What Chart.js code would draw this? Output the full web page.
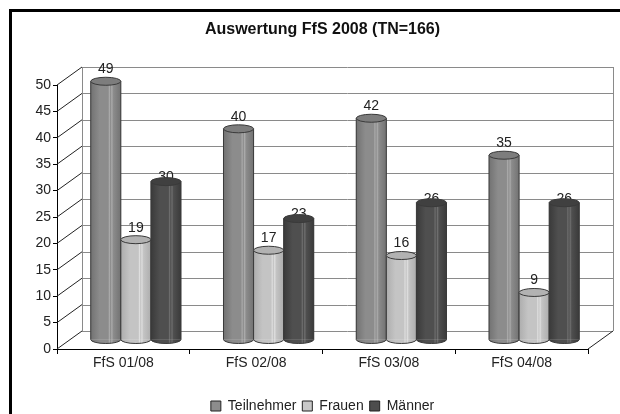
<!DOCTYPE html>
<html>
<head>
<meta charset="utf-8">
<script src="https://cdn.jsdelivr.net/npm/chart.js@4/dist/chart.umd.min.js"></script>
<style>
  html, body { margin: 0; padding: 0; background: #fff; overflow: hidden; }
  canvas { display: block; }
</style>
</head>
<body>
<canvas id="c" width="620" height="414"></canvas>
<script>
const categories = ["FfS 01/08", "FfS 02/08", "FfS 03/08", "FfS 04/08"];
const teilnehmer = [49, 40, 42, 35];
const frauen = [19, 17, 16, 9];
const maenner = [30, 23, 26, 26];
const yMax = 50;
const yStep = 5;

// depth of the 3d box
const DX = 25, DY = -18;
const RY = 4;
const FONT = '"Liberation Sans", Arial, sans-serif';

// shading per series: dark edge, base, light stripe, top cap
const shades = [
  { dark: "#727272", base: "#8c8c8c", light: "#ababab", top: "#7d7d7d", labelOff: 12 },
  { dark: "#adadad", base: "#c4c4c4", light: "#dedede", top: "#b2b2b2", labelOff: 12 },
  { dark: "#3a3a3a", base: "#4f4f4f", light: "#6e6e6e", top: "#404040", labelOff: 4 }
];

function cylGrad(ctx, x0, w, s) {
  const g = ctx.createLinearGradient(x0, 0, x0 + w, 0);
  g.addColorStop(0, s.dark);
  g.addColorStop(0.3, s.base);
  g.addColorStop(0.58, s.base);
  g.addColorStop(0.62, s.light);
  g.addColorStop(0.66, s.base);
  g.addColorStop(0.70, s.light);
  g.addColorStop(0.75, s.base);
  g.addColorStop(1, s.dark);
  return g;
}

function line(ctx, x1, y1, x2, y2) {
  ctx.beginPath();
  ctx.moveTo(x1, y1);
  ctx.lineTo(x2, y2);
  ctx.stroke();
}

// white page with the black frame (only top and left are in view)
const frame = {
  id: "frame",
  beforeDraw(chart) {
    const { ctx, width, height } = chart;
    ctx.save();
    ctx.fillStyle = "#fff";
    ctx.fillRect(0, 0, width, height);
    ctx.fillStyle = "#000";
    ctx.fillRect(9, 9, width - 9, 3);
    ctx.fillRect(9, 9, 3, height - 9);
    ctx.restore();
  }
};

const box3d = {
  id: "box3d",
  beforeDatasetsDraw(chart) {
    const { ctx, scales: { x, y } } = chart;
    const l = x.left, r = x.right, b = y.bottom, t = y.top;
    ctx.save();
    ctx.lineWidth = 1;
    // back wall
    ctx.strokeStyle = "#8a8a8a";
    for (let v = 0; v <= yMax; v += yStep) {
      const py = Math.round(y.getPixelForValue(v) + DY) + 0.5;
      line(ctx, l + DX, py, r + DX, py);
    }
    line(ctx, l + DX + 0.5, t + DY, l + DX + 0.5, b + DY);
    line(ctx, r + DX + 0.5, t + DY, r + DX + 0.5, b + DY);
    // side wall
    ctx.strokeStyle = "#222";
    for (let v = 0; v <= yMax; v += yStep) {
      const py = y.getPixelForValue(v);
      line(ctx, l, py, l + DX, py + DY);
    }
    // floor right edge
    line(ctx, r, b, r + DX, b + DY);
    ctx.restore();

    // bars sit in the middle of the depth
    ctx.save();
    ctx.translate(DX / 2, DY / 2);
  },
  afterDatasetsDraw(chart) {
    const { ctx } = chart;
    ctx.lineWidth = 1;
    ctx.strokeStyle = "#3a3a3a";
    chart.data.datasets.forEach((ds, i) => {
      const s = shades[i];
      chart.getDatasetMeta(i).data.forEach((el, j) => {
        const p = el.getProps(["x", "y", "base", "width"], true);
        const hw = p.width / 2;
        const g = cylGrad(ctx, p.x - hw, p.width, s);
        // body with cylinder shading, bottom half ellipse
        ctx.fillStyle = g;
        ctx.fillRect(p.x - hw, p.y, p.width, p.base - p.y);
        ctx.beginPath();
        ctx.ellipse(p.x, p.base, hw, RY, 0, 0, Math.PI);
        ctx.fill();
        ctx.stroke();
        // sides
        line(ctx, p.x - hw, p.y, p.x - hw, p.base);
        line(ctx, p.x + hw, p.y, p.x + hw, p.base);
        // value label
        ctx.fillStyle = "#222";
        ctx.font = "14px " + FONT;
        ctx.textAlign = "center";
        ctx.textBaseline = "middle";
        ctx.fillText(String(ds.data[j]), p.x, p.y - s.labelOff);
        // top cap
        ctx.beginPath();
        ctx.ellipse(p.x, p.y, hw, RY, 0, 0, Math.PI * 2);
        ctx.fillStyle = s.top;
        ctx.fill();
        ctx.stroke();
      });
    });
    ctx.restore();
  }
};

new Chart(document.getElementById("c"), {
  type: "bar",
  data: {
    labels: categories,
    datasets: [
      { label: "Teilnehmer", data: teilnehmer, backgroundColor: "#8c8c8c", borderWidth: 0, clip: false },
      { label: "Frauen", data: frauen, backgroundColor: "#c8c8c8", borderWidth: 0, clip: false },
      { label: "Männer", data: maenner, backgroundColor: "#4d4d4d", borderWidth: 0, clip: false }
    ]
  },
  options: {
    responsive: false,
    animation: false,
    events: [],
    categoryPercentage: 0.68,
    barPercentage: 1,
    layout: { padding: { left: 10, right: 32, top: 12, bottom: -9 } },
    plugins: {
      title: {
        display: true,
        text: "Auswertung FfS 2008 (TN=166)",
        fullSize: false,
        color: "#111",
        font: { family: FONT, size: 16, weight: "bold" },
        padding: { top: 8, bottom: 45.8 }
      },
      legend: {
        position: "bottom",
        fullSize: false,
        labels: {
          boxWidth: 10,
          boxHeight: 10,
          padding: 6,
          color: "#222",
          font: { family: FONT, size: 14 },
          generateLabels: chart => chart.data.datasets.map((ds, i) => ({
            text: ds.label,
            fillStyle: ds.backgroundColor,
            strokeStyle: "#222",
            lineWidth: 1,
            datasetIndex: i,
            hidden: false,
            fontColor: "#222"
          }))
        }
      },
      tooltip: { enabled: false }
    },
    scales: {
      x: {
        afterFit: s => { s.height = 44; },
        grid: { drawOnChartArea: false, drawTicks: true, tickLength: 5, color: "#000" },
        border: { display: true, color: "#000" },
        ticks: { color: "#222", padding: 1, font: { family: FONT, size: 14 } }
      },
      y: {
        min: 0,
        max: yMax,
        afterFit: s => { s.width = 47; },
        grid: { drawOnChartArea: false, drawTicks: true, tickLength: 4, color: "#000" },
        border: { display: true, color: "#000" },
        ticks: { stepSize: yStep, color: "#222", padding: 2, font: { family: FONT, size: 14 } }
      }
    }
  },
  plugins: [frame, box3d]
});
</script>
</body>
</html>
